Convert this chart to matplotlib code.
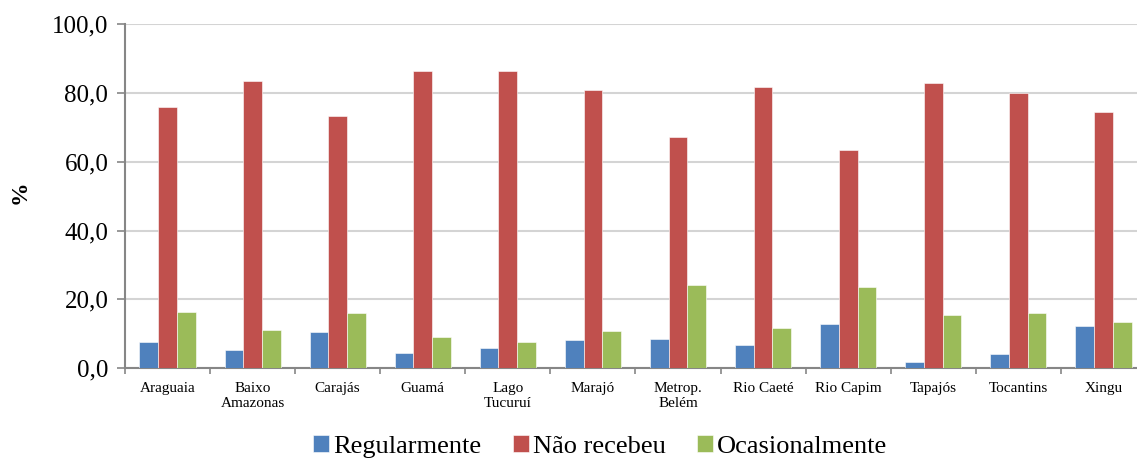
import numpy as np
import matplotlib
matplotlib.use('Agg')
import matplotlib.pyplot as plt
from matplotlib.ticker import FixedLocator, FuncFormatter

plt.rcParams['font.family'] = ['Liberation Serif', 'DejaVu Serif']

regioes = ['Araguaia', 'Baixo\nAmazonas', 'Carajás', 'Guamá', 'Lago\nTucuruí', 'Marajó',
           'Metrop.\nBelém', 'Rio Caeté', 'Rio Capim', 'Tapajós', 'Tocantins', 'Xingu']
regularmente = [7.5, 5.3, 10.5, 4.5, 5.9, 8.2, 8.5, 6.6, 12.9, 1.7, 4.2, 12.1]
nao_recebeu = [75.9, 83.5, 73.3, 86.3, 86.4, 81.0, 67.1, 81.8, 63.3, 82.9, 80.0, 74.5]
ocasionalmente = [16.4, 11.1, 16.1, 9.1, 7.6, 10.7, 24.2, 11.5, 23.6, 15.3, 15.9, 13.3]

series = [('Regularmente', regularmente, '#4F81BD'),
          ('Não recebeu', nao_recebeu, '#C0504D'),
          ('Ocasionalmente', ocasionalmente, '#9BBB59')]

fig = plt.figure(figsize=(11.37, 4.58), dpi=100)
ax = fig.add_axes([0.1099, 0.1965, 0.898, 0.7505])

x = np.arange(len(regioes))
w = 0.22
for i, (nome, vals, cor) in enumerate(series):
    ax.bar(x + (i - 1) * w, vals, w, color=cor, label=nome,
           edgecolor='white', linewidth=0.4, zorder=3)

ax.set_xlim(-0.5, len(regioes) - 0.5)
ax.set_ylim(0, 100)
ax.set_yticks(np.arange(0, 101, 20))
ax.yaxis.set_major_formatter(FuncFormatter(lambda v, p: f'{v:.1f}'.replace('.', ',')))
ax.grid(axis='y', color='#d4d4d4', linewidth=1.5, zorder=0)

ax.set_xticks(x)
ax.set_xticklabels(regioes, fontsize=11, linespacing=1.2)
ax.xaxis.set_minor_locator(FixedLocator(np.arange(-0.5, len(regioes), 1.0)))
ax.tick_params(axis='x', which='major', length=0, pad=10)
ax.tick_params(axis='x', which='minor', length=4, width=1.2, color='#868686', direction='out')
ax.tick_params(axis='y', length=6, width=1.2, color='#868686', labelsize=18, pad=6)

for s in ['top', 'right']:
    ax.spines[s].set_visible(False)
for s in ['left', 'bottom']:
    ax.spines[s].set_color('#868686')
    ax.spines[s].set_linewidth(1.5)

fig.text(0.018, 0.58, '%', rotation=90, fontsize=17, fontweight='bold', va='center', ha='center')

fig.legend(loc='lower center', bbox_to_anchor=(0.528, -0.052), ncol=3, frameon=False,
           fontsize=19, handlelength=0.6, handleheight=0.6, handletextpad=0.15,
           columnspacing=1.2)

fig.savefig('out.png', dpi=100)
